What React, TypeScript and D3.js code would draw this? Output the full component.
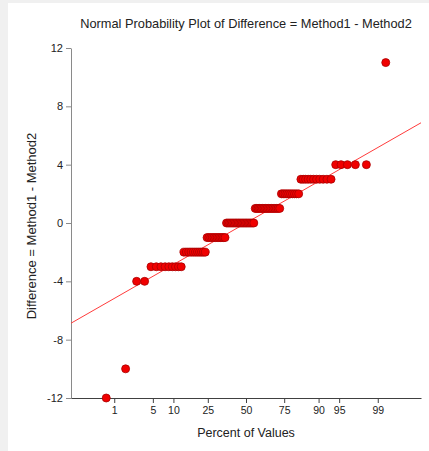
import { useRef, useEffect } from 'react';
import * as d3 from 'd3';

// differences (Method1 - Method2) and how many times each occurs
const diffValues = [-12, -10, -4, -3, -2, -1, 0, 1, 2, 3, 4, 11];
const diffCounts = [1, 1, 2, 9, 11, 12, 20, 17, 10, 11, 5, 1];

const yTicks = [-12, -8, -4, 0, 4, 8, 12];
const percentTicks = [1, 5, 10, 25, 50, 75, 90, 95, 99];

const title = 'Normal Probability Plot of Difference = Method1 - Method2';
const xTitle = 'Percent of Values';
const yTitle = 'Difference = Method1 - Method2';

// inverse normal cdf (Acklam)
function probit(p: number): number {
  const a = [-3.969683028665376e1, 2.209460984245205e2, -2.759285104469687e2, 1.38357751867269e2, -3.066479806614716e1, 2.506628277459239];
  const b = [-5.447609879822406e1, 1.615858368580409e2, -1.556989798598866e2, 6.680131188771972e1, -1.328068155288572e1];
  const c = [-7.784894002430293e-3, -3.223964580411365e-1, -2.400758277161838, -2.549732539343734, 4.374664141464968, 2.938163982698783];
  const d = [7.784695709041462e-3, 3.224671290700398e-1, 2.445134137142996, 3.754408661907416];
  const pl = 0.02425;
  if (p < pl) {
    const q = Math.sqrt(-2 * Math.log(p));
    return (((((c[0] * q + c[1]) * q + c[2]) * q + c[3]) * q + c[4]) * q + c[5]) / ((((d[0] * q + d[1]) * q + d[2]) * q + d[3]) * q + 1);
  }
  if (p > 1 - pl) return -probit(1 - p);
  const q = p - 0.5;
  const r = q * q;
  return (((((a[0] * r + a[1]) * r + a[2]) * r + a[3]) * r + a[4]) * r + a[5]) * q / (((((b[0] * r + b[1]) * r + b[2]) * r + b[3]) * r + b[4]) * r + 1);
}

export default function App() {
  const svgRef = useRef<SVGSVGElement>(null);

  useEffect(() => {
    const W = 429, H = 451;
    const margin = { top: 48, right: 8, bottom: 53, left: 71 };

    const sorted: number[] = [];
    diffValues.forEach((v, i) => { for (let k = 0; k < diffCounts[i]; k++) sorted.push(v); });
    const n = sorted.length;
    const data = sorted.map((v, i) => ({ z: probit((i + 1 - 0.3175) / (n + 0.365)), v }));

    const svg = d3.select(svgRef.current)
      .html('')
      .attr('width', W)
      .attr('height', H);

    svg.append('rect').attr('width', W).attr('height', H).attr('fill', '#f0f0f0');
    svg.append('rect').attr('x', 8).attr('y', 3).attr('width', W - 8).attr('height', H - 3).attr('fill', '#ffffff');

    const x = d3.scaleLinear().domain([-3.09, 3.09]).range([margin.left, W - margin.right]);
    const y = d3.scaleLinear().domain([-12, 12]).range([H - margin.bottom, margin.top]);

    const font = 'Arial, "Liberation Sans", sans-serif';

    // y axis
    const gy = svg.append('g')
      .attr('transform', `translate(${margin.left},0)`)
      .call(d3.axisLeft(y).tickValues(yTicks).tickFormat(d => String(d))
        .tickSize(5).tickSizeOuter(0).tickPadding(3));
    gy.select('.domain').attr('stroke', '#8a8a8a');
    gy.selectAll('.tick line').attr('stroke', '#8a8a8a');
    gy.selectAll('.tick text').attr('font-size', 11).attr('font-family', font).attr('fill', '#222');

    // x axis (percent placed at normal quantiles)
    const gx = svg.append('g')
      .attr('transform', `translate(0,${H - margin.bottom})`)
      .call(d3.axisBottom(x)
        .tickValues(percentTicks.map(p => probit(p / 100)))
        .tickFormat((_, i) => String(percentTicks[i]))
        .tickSize(5).tickSizeOuter(0).tickPadding(4));
    gx.select('.domain').attr('stroke', '#404040');
    gx.selectAll('.tick line').attr('stroke', '#404040');
    gx.selectAll('.tick text').attr('font-size', 10.5).attr('font-family', font).attr('fill', '#222');

    // reference line: median + (IQR / 1.349) * z
    const med = d3.quantile(sorted, 0.5) as number;
    const q1 = d3.quantile(sorted, 0.25) as number;
    const q3 = d3.quantile(sorted, 0.75) as number;
    const slope = (q3 - q1) / (2 * probit(0.75));
    const line = d3.line<number>().x(z => x(z)).y(z => y(med + slope * z));
    svg.append('path')
      .datum(x.domain())
      .attr('fill', 'none')
      .attr('stroke', '#ff3b3b')
      .attr('stroke-width', 1)
      .attr('d', line);

    // points
    svg.selectAll('.dot')
      .data(data)
      .enter()
      .append('circle')
      .attr('class', 'dot')
      .attr('cx', d => x(d.z))
      .attr('cy', d => y(d.v))
      .attr('r', 4)
      .attr('fill', '#f00000')
      .attr('stroke', '#a80000')
      .attr('stroke-width', 0.8);

    // titles
    svg.append('text')
      .attr('x', (margin.left + W - margin.right) / 2)
      .attr('y', 27.5)
      .attr('text-anchor', 'middle')
      .attr('font-size', 12.8)
      .attr('font-family', font)
      .attr('fill', '#222')
      .text(title);

    svg.append('text')
      .attr('x', (margin.left + W - margin.right) / 2)
      .attr('y', 437)
      .attr('text-anchor', 'middle')
      .attr('font-size', 12.5)
      .attr('font-family', font)
      .attr('fill', '#222')
      .text(xTitle);

    svg.append('text')
      .attr('transform', `translate(36,${(margin.top + H - margin.bottom) / 2 + 3}) rotate(-90)`)
      .attr('text-anchor', 'middle')
      .attr('font-size', 13)
      .attr('font-family', font)
      .attr('fill', '#222')
      .text(yTitle);
  }, []);

  return (
    <svg ref={svgRef} style={{ position: 'absolute', left: 0, top: 0, display: 'block' }} />
  );
}
